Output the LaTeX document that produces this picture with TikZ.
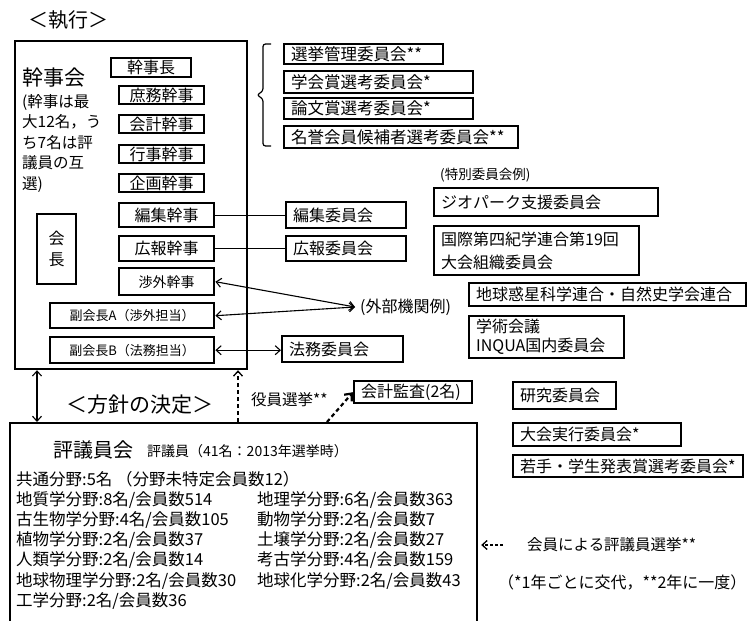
\documentclass[tikz,border=0pt]{standalone}
\usepackage{fontspec}
\setmainfont{Noto Sans CJK JP}
\usetikzlibrary{arrows.meta}
\newcommand\myfs[2]{\fontsize{#1}{#2}\selectfont}
\tikzset{
  frame/.style={draw, line width=2.2pt, inner sep=0pt, anchor=north west},
  bx/.style={draw, line width=2.4pt, inner xsep=7pt, inner ysep=0pt, anchor=north west, font=\myfs{16}{20}},
  lbx/.style={bx, align=left},
  lbl/.style={inner sep=0pt, anchor=west},
  col/.style={inner sep=0pt, anchor=base west, align=left, font=\myfs{16.5}{20.2}},
  conn/.style={line width=1.1pt},
  arr/.style={line width=1.1pt, {Straight Barb[length=5pt,width=9pt]}-{Straight Barb[length=5pt,width=9pt]}},
  dsh/.style={line width=1.3pt, dash pattern=on 4pt off 3pt, -{Straight Barb[length=5pt,width=9pt]}},
}
\begin{document}
\begin{tikzpicture}[x=1pt,y=-1pt]
\useasboundingbox (0,0) rectangle (747,621);

% frames
\node[frame, minimum width=232pt, minimum height=328pt] (kanjikai) at (14,40) {};
\node[frame, minimum width=467pt, minimum height=206pt] (council) at (9,422) {};

% executive
\node[lbl, font=\myfs{20}{24}] (tshikko) at (28,20) {＜執行＞};
\node[lbl, font=\myfs{21}{24}] (tkanjikai) at (22,78) {幹事会};
\node[col, font=\myfs{15.5}{20.5}] (tkjnote) at (22,189) {(幹事は最\\大12名，う\\ち7名は評\\議員の互\\選)};

\node[bx, minimum width=80pt, minimum height=19pt] (kanjicho) at (110,57) {幹事長};
\node[bx, minimum width=85pt, minimum height=18pt] (shomu) at (118,85) {庶務幹事};
\node[bx, minimum width=85pt, minimum height=18pt] (kaikei) at (118,114) {会計幹事};
\node[bx, minimum width=85pt, minimum height=18pt] (gyoji) at (118,144) {行事幹事};
\node[bx, minimum width=85pt, minimum height=18pt] (kikaku) at (118,173) {企画幹事};
\node[bx, minimum width=95pt, minimum height=24pt] (henshu) at (118,202) {編集幹事};
\node[bx, minimum width=95pt, minimum height=25pt] (koho) at (118,235) {広報幹事};
\node[bx, minimum width=95pt, minimum height=27pt, font=\myfs{14}{18}] (shogai) at (118,267) {渉外幹事};
\node[bx, minimum width=164pt, minimum height=25pt, font=\myfs{13}{16}] (fukuA) at (49,302) {副会長A（渉外担当）};
\node[bx, minimum width=164pt, minimum height=26pt, font=\myfs{13}{16}] (fukuB) at (49,336) {副会長B（法務担当）};
\node[bx, minimum width=39pt, minimum height=70pt, align=center, font=\myfs{16}{21}] (kaicho) at (36,213) {会\\長};

% standing committees
\draw[line width=1.2pt, rounded corners=2.5pt] (271,44) -- (263,44) -- (263,91) -- (257,95) -- (263,99) -- (263,146) -- (271,146);
\node[lbx, minimum width=159pt, minimum height=20pt, text width=145pt, font=\myfs{16.5}{20}] (senkyo) at (283,43) {選挙管理委員会**};
\node[lbx, minimum width=189pt, minimum height=22pt, text width=175pt, font=\myfs{16.5}{20}] (gakkaisho) at (283,70) {学会賞選考委員会*};
\node[lbx, minimum width=189pt, minimum height=21pt, text width=175pt, font=\myfs{16.5}{20}] (rombun) at (283,97) {論文賞選考委員会*};
\node[lbx, minimum width=234pt, minimum height=22pt, text width=220pt, font=\myfs{16.5}{20}] (meiyo) at (283,125) {名誉会員候補者選考委員会**};

\node[lbx, minimum width=120pt, minimum height=26pt, text width=106pt] (henshuI) at (285,201) {編集委員会};
\node[lbx, minimum width=120pt, minimum height=25pt, text width=106pt] (kohoI) at (285,235) {広報委員会};
\node[lbx, minimum width=121pt, minimum height=26pt, text width=107pt] (homu) at (281,335) {法務委員会};

% special committees
\node[lbl, font=\myfs{13.5}{16}] (tokubetsu) at (440,175) {(特別委員会例)};
\node[lbx, minimum width=224pt, minimum height=28pt, text width=210pt] (geopark) at (433,187) {ジオパーク支援委員会};
\node[lbx, minimum width=205pt, minimum height=49pt, text width=191pt, font=\myfs{16}{23}] (inqua19) at (433,225) {国際第四紀学連合第19回\\大会組織委員会};

% external
\node[lbl, font=\myfs{16}{18}] (gaibu) at (360,307) {(外部機関例)};
\node[lbx, minimum width=277pt, minimum height=23pt, text width=263pt] (jpgu) at (468,282) {地球惑星科学連合・自然史学会連合};
\node[lbx, minimum width=155pt, minimum height=42pt, text width=141pt, font=\myfs{16}{19}] (gakujutsu) at (468,315) {学術会議\\INQUA国内委員会};

% other committees
\node[lbx, minimum width=118pt, minimum height=22pt, text width=104pt] (kansa) at (353,380) {会計監査(2名)};
\node[lbx, minimum width=103pt, minimum height=27pt, text width=89pt] (kenkyu) at (512,381) {研究委員会};
\node[lbx, minimum width=168pt, minimum height=23pt, text width=154pt] (taikai) at (512,422) {大会実行委員会*};
\node[lbx, minimum width=230pt, minimum height=22pt, text width=216pt] (wakate) at (512,454) {若手・学生発表賞選考委員会*};

% connectors
\draw[conn] (henshu.east) -- (henshuI.west);
\draw[conn] (koho.east) -- (kohoI.west);
\coordinate (ext) at (355,307);
\draw[arr] (shogai.east) -- (ext);
\draw[arr] (fukuA.east) -- (ext);
\draw[arr] (fukuB.east) -- (homu.west |- fukuB.east);

\coordinate (vA) at (37,0);
\coordinate (vB) at (238,0);
\coordinate (vC) at (327,0);
\draw[arr] (kanjikai.south -| vA) -- (council.north -| vA);
\draw[dsh] (council.north -| vB) -- (kanjikai.south -| vB);
\draw[line width=2.2pt, dash pattern=on 4pt off 3pt, -{Straight Barb[length=6pt,width=10pt]}] (council.north -| vC) -- (kansa.west);

% policy
\node[lbl, font=\myfs{15.5}{18}] (yakuin) at (251,400) {役員選挙**};
\node[lbl, font=\myfs{21}{24}] (hoshin) at (66,405) {＜方針の決定＞};

% council text
\node[lbl, font=\myfs{20}{24}] (thyogi) at (53,450) {評議員会};
\node[lbl, font=\myfs{14}{18}] (thyogi2) at (147,451) {評議員（41名：2013年選挙時）};
\node[col] (colL) at (16,606.2) {共通分野:5名 （分野未特定会員数12）\\地質学分野:8名/会員数514\\古生物学分野:4名/会員数105\\植物学分野:2名/会員数37\\人類学分野:2名/会員数14\\地球物理学分野:2名/会員数30\\工学分野:2名/会員数36};
\node[col] (colR) at (257,586) {地理学分野:6名/会員数363\\動物学分野:2名/会員数7\\土壌学分野:2名/会員数27\\考古学分野:4名/会員数159\\地球化学分野:2名/会員数43};

% notes
\node[lbl, font=\myfs{15.5}{18}] (senkyoNote) at (527,545) {会員による評議員選挙**};
\coordinate (dtail) at (503,545);
\draw[line width=1.3pt, dash pattern=on 3pt off 2pt, -{Straight Barb[length=5pt,width=9pt]}, shorten >=3pt] (dtail) -- (council.east |- dtail);
\node[lbl, font=\myfs{16}{18}] (note2) at (498,583) {（*1年ごとに交代，**2年に一度）};
\end{tikzpicture}
\end{document}
